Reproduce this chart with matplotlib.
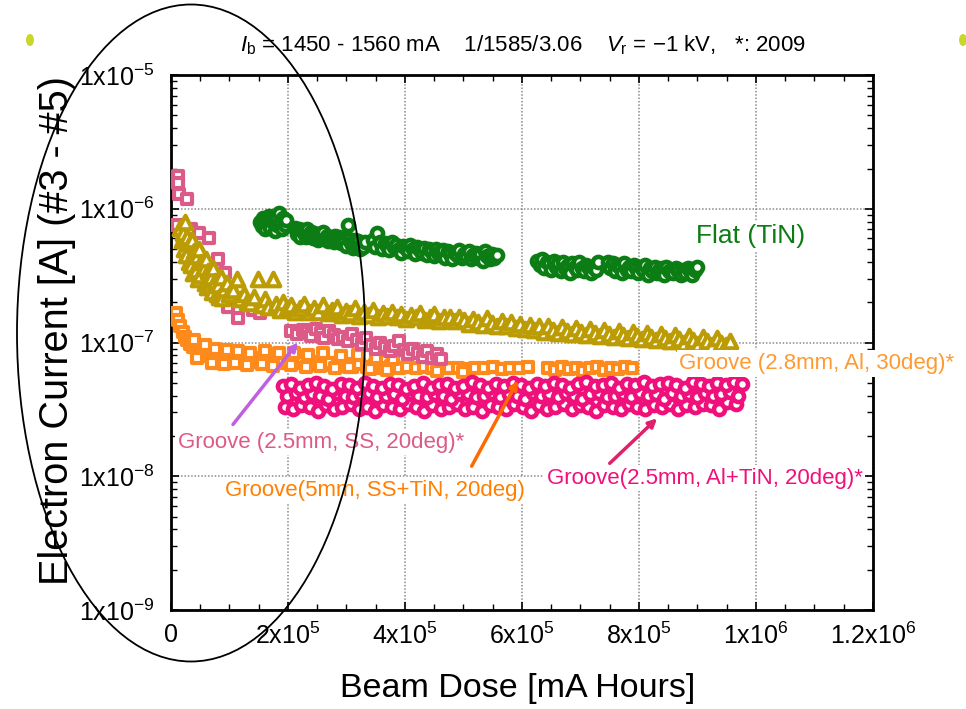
import numpy as np
import matplotlib.pyplot as plt
from matplotlib.patches import Ellipse
from matplotlib.ticker import FixedLocator, MultipleLocator, LogLocator, NullFormatter

plt.rcParams['font.family'] = ['Liberation Sans', 'DejaVu Sans']
plt.rcParams['mathtext.fontset'] = 'custom'
plt.rcParams['mathtext.rm'] = 'Liberation Sans'
plt.rcParams['mathtext.it'] = 'Liberation Sans:italic'
plt.rcParams['mathtext.bf'] = 'Liberation Sans:bold'

# === DATA (x in 1e3 mA h, y in 1e-8 A) ===
KX = 1e3
KY = 1e-8

# Flat (TiN) - green circles
green_pts = [
    (152, 80), (155, 74), (157, 86), (160, 70), (162, 82), (165, 77), (167, 88), (170, 72),
    (172, 84), (175, 79), (177, 68), (180, 86), (182, 75), (185, 93), (187, 80), (190, 70),
    (192, 85), (195, 76), (197, 82),
    (212, 72), (215, 65), (218, 70), (221, 62), (224, 69), (227, 66), (230, 61), (233, 70),
    (236, 64), (239, 67), (242, 60), (245, 66), (248, 63), (251, 58), (254, 65), (257, 61),
    (260, 67), (263, 59), (266, 63), (269, 57), (272, 62), (275, 60), (278, 56), (281, 63),
    (284, 58), (287, 61), (290, 55), (293, 60), (296, 57), (299, 53), (302, 75), (305, 59),
    (308, 55), (311, 51), (314, 58), (317, 54), (320, 57), (323, 50), (326, 55), (329, 52),
    (332, 56),
    (345, 58), (349, 52), (353, 66), (357, 56), (361, 50), (365, 55), (369, 53), (373, 49),
    (377, 56), (381, 52), (385, 54), (389, 50), (393, 47), (397, 53), (401, 51), (405, 48),
    (409, 54), (413, 50), (417, 46), (421, 52), (425, 49), (429, 47), (433, 51), (437, 45),
    (441, 50), (445, 48), (449, 44), (453, 50), (457, 47), (461, 45), (465, 49), (469, 43),
    (473, 48), (477, 46), (481, 42), (485, 47), (489, 45), (493, 49), (497, 43), (501, 46),
    (505, 44), (509, 48), (513, 42), (517, 45), (521, 47), (525, 43), (529, 46), (533, 41),
    (537, 48), (541, 44), (545, 42), (549, 46), (553, 43), (557, 45),
    (626, 41), (630, 38), (634, 42), (638, 36), (642, 40), (646, 39), (650, 35), (654, 41),
    (658, 37), (662, 39), (666, 34), (670, 40), (674, 36), (678, 38), (682, 33), (686, 39),
    (690, 37), (694, 35), (698, 40), (702, 36), (706, 34), (710, 38), (714, 36), (718, 33),
    (722, 37), (726, 35), (730, 40),
    (747, 40), (751, 36), (755, 39), (759, 34), (763, 38), (767, 37), (771, 33), (775, 39),
    (779, 35), (783, 37), (787, 34), (791, 38), (795, 36), (799, 33), (803, 37), (807, 35),
    (811, 38), (815, 32), (819, 36), (823, 34), (827, 37), (831, 33), (835, 35), (839, 36),
    (843, 32), (847, 37), (851, 34), (855, 35), (859, 33), (863, 36), (867, 34), (871, 32),
    (875, 35), (879, 33), (883, 36), (887, 34), (891, 32), (895, 35), (899, 37),
]

# olive triangles
olive_pts = [
    (15, 72), (18, 58), (20, 66), (22, 50), (24, 80), (26, 45), (28, 62), (30, 40),
    (32, 55), (34, 38), (36, 58), (38, 33), (40, 48), (42, 35), (44, 44), (46, 30),
    (48, 50), (50, 32), (52, 40), (56, 36), (58, 28), (60, 42), (62, 26), (64, 34),
    (66, 27), (68, 31), (70, 24), (72, 36), (76, 29), (78, 23), (80, 27), (82, 22),
    (85, 31), (88, 21.5), (90, 25), (95, 28), (100, 23), (106, 24.5), (112, 30), (118, 21),
    (124, 23), (130, 20), (135, 19.6), (142, 22), (149, 30), (155, 19), (160, 21), (166, 18.5),
    (174, 30), (180, 19.5), (186, 17.5), (192, 20), (198, 18), (205, 19), (212, 17), (220, 18.2),
    (228, 19.5), (236, 16.8), (244, 18), (252, 17), (260, 19), (268, 16.5), (276, 17.5), (284, 18.5),
    (292, 16), (300, 17.2), (306, 16.5), (314, 18), (322, 15.8), (330, 17), (338, 16), (346, 17.5),
    (354, 15.5), (362, 16.6), (370, 15.8), (378, 17), (386, 15.4), (394, 16.4), (402, 15), (410, 16),
    (418, 15.4), (426, 16.6), (434, 14.8), (442, 15.6), (450, 16.2), (458, 14.6), (466, 15.5), (477, 15.4),
    (485, 14.4), (493, 15.6), (501, 14.8), (509, 13.8), (517, 15), (525, 14.2), (533, 13.6), (541, 15.2),
    (549, 14), (557, 13.4), (565, 14.6), (573, 13.2), (581, 14.2), (589, 12.8), (597, 13.8), (605, 12.6),
    (613, 13.6), (621, 12.4), (629, 13.4), (637, 12), (645, 13.2), (653, 12.4), (661, 11.8), (669, 13),
    (677, 12.2), (685, 11.6), (693, 12.8), (701, 12), (709, 11.4), (717, 12.6), (725, 11.8), (733, 11.2),
    (741, 12.4), (749, 11.6), (757, 11), (765, 12.2), (773, 11.4), (781, 10.8), (789, 12), (797, 11.2),
    (805, 10.6), (813, 11.8), (821, 11), (829, 10.4), (837, 11.6), (845, 10.8), (853, 10.2), (861, 11.4),
    (869, 10.6), (877, 10), (885, 11.2), (893, 10.4), (901, 9.8), (909, 11), (917, 10.2), (925, 9.6),
    (933, 10.8), (941, 10), (949, 9.5), (955, 10.3),
]

# Groove (2.5mm, SS, 20deg)* - pink squares
pink_x = [12, 12, 13, 28, 10, 35, 48, 65, 80, 92, 98, 115, 140, 152, 205, 215, 225, 232, 240, 248,
          256, 262, 270, 278, 286, 294, 302, 310, 318, 326, 334, 342, 350, 358, 366, 374, 382, 390,
          398, 406, 414, 422, 430, 438, 446, 455, 462]
pink_y = [176, 156, 129, 119, 75, 70, 66, 60, 42, 33, 18.5, 15.2, 17.5, 16.5, 12.2, 11.6, 12.5, 12.0,
          11.2, 12.6, 11.8, 10.8, 12.2, 11.4, 10.6, 11.0, 10.2, 11.6, 10.4, 9.8, 10.8, 9.6, 9.0, 10.0,
          9.2, 8.6, 9.4, 10.2, 8.8, 8.2, 9.0, 8.4, 7.8, 8.6, 7.6, 8.2, 7.5]

# Groove(5mm, SS+TiN, 20deg) - orange squares
orange_x = [8, 12, 15, 20, 24, 28, 33, 38, 44, 50, 55, 60, 66, 72, 78, 85, 92, 100, 108, 116,
            124, 132, 140, 150, 160, 170, 180, 190, 200, 212, 224, 236, 248, 260, 272, 285, 298, 310,
            322, 335, 348, 362, 376, 390, 404, 418, 432, 446, 460, 475, 490, 505, 520, 535, 550, 565,
            580, 595, 610]
orange_y = [16.5, 14.8, 13.2, 12.0, 11.0, 10.4, 9.8, 9.2, 8.9, 8.3, 8.8, 7.9, 8.1, 7.6, 7.9, 7.4,
            7.7, 7.3, 7.6, 7.2, 7.5, 7.3, 7.6, 7.2, 7.4, 7.1, 7.5, 7.0, 7.3, 7.0, 7.2, 6.9, 7.1, 6.8,
            7.0, 6.7, 6.9, 6.6, 6.9, 6.6, 6.8, 6.5, 6.7, 6.5, 6.6, 6.4, 6.6, 6.4, 6.6, 6.4, 6.5, 6.3,
            6.5, 6.4, 6.6, 6.3, 6.5, 6.4, 6.6]
# upper and lower edges of the same orange band
orange2_x = [40, 58, 75, 95, 115, 135, 160, 185, 210, 235, 260, 290, 320, 350, 380,
             45, 70, 90, 110, 130, 155, 175, 205, 230, 255, 280, 305, 340, 370, 455, 500]
orange2_y = [10.5, 9.6, 9.0, 8.8, 8.6, 8.4, 8.6, 8.3, 8.4, 8.1, 8.3, 7.9, 8.0, 7.6, 7.5,
             7.6, 7.0, 6.9, 7.0, 6.8, 6.9, 6.7, 6.8, 6.6, 6.7, 6.5, 6.6, 6.3, 6.2, 6.1, 6.0]

# Groove (2.8mm, Al, 30deg)* - orange squares
al_x = [644, 656, 668, 680, 692, 704, 716, 728, 740, 752, 764, 776, 788]
al_y = [6.5, 6.2, 6.6, 6.3, 6.5, 6.1, 6.4, 6.6, 6.2, 6.5, 6.3, 6.6, 6.4]

# Groove(2.5mm, Al+TiN, 20deg)* - magenta circles, three rows of the band
mag_top_x = [192, 206, 220, 234, 248, 262, 276, 290, 304, 318, 332, 346, 360, 374, 388, 402, 416,
             430, 444, 458, 472, 486, 500, 514, 528, 542, 556, 570, 584, 598, 612, 626, 640, 654,
             668, 682, 696, 710, 724, 738, 752, 766, 780, 794, 808, 822, 836, 850, 864, 878, 892,
             906, 920, 934, 948, 962, 976]
mag_top_y = [4.7, 4.9, 4.6, 4.8, 5.0, 4.7, 4.5, 4.9, 4.8, 4.6, 5.0, 4.7, 4.6, 4.9, 4.8, 4.5, 4.7,
             5.0, 4.6, 4.8, 4.9, 4.6, 4.7, 5.1, 4.8, 4.6, 4.9, 4.7, 5.0, 4.8, 4.6, 4.9, 4.7, 5.0,
             4.8, 4.6, 4.9, 5.1, 4.7, 4.8, 5.0, 4.6, 4.9, 4.8, 5.1, 4.7, 4.9, 5.0, 4.8, 4.6, 5.1,
             4.9, 4.7, 5.0, 4.8, 5.1, 4.9]
mag_mid_x = [199, 213, 227, 241, 255, 269, 283, 297, 311, 325, 339, 353, 367, 381, 395, 409, 423,
             437, 451, 465, 479, 493, 507, 521, 535, 549, 563, 577, 591, 605, 619, 633, 647, 661,
             675, 689, 703, 717, 731, 745, 759, 773, 787, 801, 815, 829, 843, 857, 871, 885, 899,
             913, 927, 941, 955, 969]
mag_mid_y = [4.0, 4.2, 3.9, 4.1, 4.0, 3.8, 4.2, 4.0, 3.9, 4.1, 4.2, 3.9, 4.0, 4.1, 3.8, 4.2, 4.0,
             3.9, 4.1, 4.0, 3.8, 4.2, 4.1, 3.9, 4.0, 4.2, 3.9, 4.1, 4.0, 3.8, 4.2, 4.0, 4.1, 3.9,
             4.2, 4.0, 3.8, 4.1, 4.2, 3.9, 4.0, 4.1, 3.9, 4.2, 4.0, 4.1, 3.8, 4.2, 4.0, 4.1, 3.9,
             4.2, 4.0, 4.1, 4.3, 4.0]
mag_low_x = [195, 209, 223, 237, 251, 265, 279, 293, 307, 321, 335, 349, 363, 377, 391, 405, 419,
             433, 447, 461, 475, 489, 503, 517, 531, 545, 559, 573, 587, 601, 615, 629, 643, 657,
             671, 685, 699, 713, 727, 741, 755, 769, 783, 797, 811, 825, 839, 853, 867, 881, 895,
             909, 923, 937, 951, 965]
mag_low_y = [3.3, 3.2, 3.4, 3.3, 3.1, 3.4, 3.2, 3.3, 3.5, 3.2, 3.3, 3.1, 3.4, 3.3, 3.2, 3.5, 3.3,
             3.1, 3.4, 3.2, 3.3, 3.5, 3.2, 3.3, 3.1, 3.4, 3.3, 3.2, 3.5, 3.3, 3.1, 3.4, 3.2, 3.3,
             3.5, 3.2, 3.4, 3.3, 3.1, 3.4, 3.3, 3.2, 3.5, 3.3, 3.2, 3.4, 3.3, 3.5, 3.2, 3.4, 3.3,
             3.5, 3.4, 3.2, 3.6, 3.5]

x_ticks = [0, 2e5, 4e5, 6e5, 8e5, 1e6, 1.2e6]
x_labels = ['0', r'$\mathrm{2x10^{5}}$', r'$\mathrm{4x10^{5}}$', r'$\mathrm{6x10^{5}}$',
            r'$\mathrm{8x10^{5}}$', r'$\mathrm{1x10^{6}}$', r'$\mathrm{1.2x10^{6}}$']
y_ticks = [1e-9, 1e-8, 1e-7, 1e-6, 1e-5]
y_labels = [r'$\mathrm{1x10^{-9}}$', r'$\mathrm{1x10^{-8}}$', r'$\mathrm{1x10^{-7}}$',
            r'$\mathrm{1x10^{-6}}$', r'$\mathrm{1x10^{-5}}$']

# === COLOURS ===
GREEN = '#0b7d14'
OLIVE = '#bc9c05'
PINK = '#dc5a88'
ORANGE = '#ff8a1c'
MAGENTA = '#f0107c'


def scale(xs, ys):
    return np.array(xs, dtype=float) * KX, np.array(ys, dtype=float) * KY


# === FIGURE ===
fig = plt.figure(figsize=(9.66, 7.09), dpi=100)
ax = fig.add_axes([0.177, 0.1396, 0.7267, 0.7546])
ax.set_yscale('log')
ax.set_xlim(0, 1.2e6)
ax.set_ylim(1e-9, 1e-5)

sq = dict(s=58, marker='s', facecolors='white', linewidths=3.0, zorder=3)
for sx, sy in [(orange_x, orange_y), (orange2_x, orange2_y), (al_x, al_y)]:
    x, y = scale(sx, sy)
    ax.scatter(x, y, edgecolors=ORANGE, **sq)
x, y = scale(pink_x, pink_y)
ax.scatter(x, y, edgecolors=PINK, **sq)
gx, gy = zip(*olive_pts)
x, y = scale(gx, gy)
ax.scatter(x, y, s=95, marker='^', facecolors='white', edgecolors=OLIVE, linewidths=3.0, zorder=3)
circ = dict(s=64, marker='o', facecolors='white', linewidths=3.3, zorder=3)
gx, gy = zip(*green_pts)
x, y = scale(gx, gy)
ax.scatter(x, y, edgecolors=GREEN, **circ)
for mx, my in [(mag_low_x, mag_low_y), (mag_mid_x, mag_mid_y), (mag_top_x, mag_top_y)]:
    x, y = scale(mx, my)
    ax.scatter(x, y, edgecolors=MAGENTA, **circ)

# === AXES STYLE ===
ax.set_axisbelow(True)
ax.grid(True, which='major', color='#8a8a8a', linestyle=(0, (1, 1.2)), linewidth=1.1)
ax.xaxis.set_major_locator(FixedLocator(x_ticks))
ax.xaxis.set_minor_locator(MultipleLocator(5e4))
ax.set_xticklabels(x_labels)
ax.yaxis.set_major_locator(FixedLocator(y_ticks))
ax.yaxis.set_minor_locator(LogLocator(base=10, subs=range(2, 10)))
ax.yaxis.set_minor_formatter(NullFormatter())
ax.set_yticklabels(y_labels)
ax.tick_params(which='both', direction='in', top=True, right=True, labelsize=18)
ax.tick_params(axis='x', which='major', length=6, width=1.2, pad=9)
ax.tick_params(axis='y', which='major', length=6, width=1.2, pad=12)
ax.tick_params(which='minor', length=4, width=1.0)
for sp in ax.spines.values():
    sp.set_linewidth(2.0)

ax.set_xlabel('Beam Dose [mA Hours]', fontsize=24.5)
ax.xaxis.set_label_coords(0.494, -0.146)
ax.xaxis.label.set_va('center')
ax.set_ylabel('Electron Current [A] (#3 - #5)', fontsize=28.5)
ax.yaxis.set_label_coords(-0.162, 0.523)
ax.yaxis.label.set_va('center')

fig.text(0.541, 0.9365,
         r'$I_{\mathrm{b}}$ = 1450 - 1560 mA    1/1585/3.06    $V_{\mathrm{r}}$ = $\mathrm{-}$1 kV,   *: 2009',
         ha='center', va='center', fontsize=16)

# === LABELS & ARROWS ===
box = dict(facecolor='white', edgecolor='none', pad=2)
ax.text(9.9e5, 6.3e-7, 'Flat (TiN)', color=GREEN, fontsize=19, ha='center', va='center',
        bbox=box, zorder=5, clip_on=False)
ax.text(1.104e6, 6.97e-8, 'Groove (2.8mm, Al, 30deg)*', color='#ff9a30', fontsize=16,
        ha='center', va='center', bbox=box, zorder=5, clip_on=False)
ax.text(2.56e5, 1.8e-8, 'Groove (2.5mm, SS, 20deg)*', color=PINK, fontsize=16,
        ha='center', va='center', bbox=box, zorder=5, clip_on=False)
ax.text(3.495e5, 7.87e-9, 'Groove(5mm, SS+TiN, 20deg)', color='#ff7f00', fontsize=16,
        ha='center', va='center', bbox=box, zorder=5, clip_on=False)
ax.text(9.126e5, 9.66e-9, 'Groove(2.5mm, Al+TiN, 20deg)*', color=MAGENTA, fontsize=16,
        ha='center', va='center', bbox=box, zorder=5, clip_on=False)

arrows = [((2.17e5, 1.0e-7), (1.06e5, 2.44e-8), '#c060e0'),
          ((5.93e5, 5.2e-8), (5.14e5, 1.19e-8), '#ff6a00'),
          ((8.31e5, 2.71e-8), (7.50e5, 1.25e-8), '#e0206a')]
for head, tail, c in arrows:
    ax.annotate('', xy=head, xytext=tail, zorder=6,
                arrowprops=dict(arrowstyle='-|>', color=c, lw=2.5, mutation_scale=12,
                                shrinkA=0, shrinkB=0))

# ellipse drawn over the slide and the two bullet dots
fig.add_artist(Ellipse((191 / 966, 1 - 333 / 709), 348 / 966, 657 / 709,
                       transform=fig.transFigure, fill=False, edgecolor='black', linewidth=1.3))
for cx in (30, 963):
    fig.add_artist(Ellipse((cx / 966, 1 - 40 / 709), 8 / 966, 12 / 709,
                           transform=fig.transFigure, facecolor='#c8d82a', edgecolor='none'))

fig.savefig('out.png', dpi=100)
